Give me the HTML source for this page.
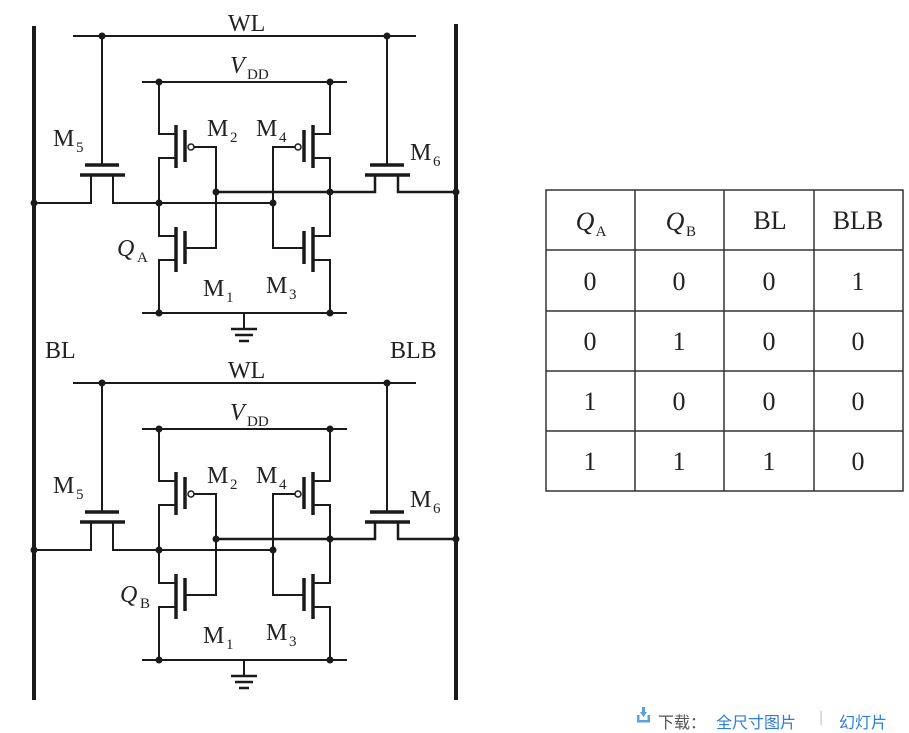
<!DOCTYPE html>
<html><head><meta charset="utf-8"><style>
html,body{margin:0;padding:0;background:#fff;width:909px;height:730px;overflow:hidden}
svg{position:absolute;left:0;top:0}
text{font-family:"Liberation Serif",serif;fill:#222}
.ft{position:absolute;top:709px;font-family:"Liberation Sans","Noto Sans CJK SC",sans-serif;font-size:16px}
</style></head><body>
<svg width="909" height="730" viewBox="0 0 909 730">
<defs>
<g id="cell" stroke="#1a1a1a" fill="none" stroke-width="2">
  <line x1="73" y1="36" x2="416" y2="36"/>
  <line x1="142" y1="82" x2="347" y2="82"/>
  <line x1="142" y1="313" x2="347" y2="313"/>
  <!-- M5 -->
  <line x1="102" y1="36" x2="102" y2="165"/>
  <line x1="85" y1="165" x2="119" y2="165" stroke-width="3.5"/>
  <line x1="80" y1="175" x2="125" y2="175" stroke-width="3.5"/>
  <polyline points="91,175 91,203 34,203"/>
  <polyline points="113,175 113,203 273,203" />
  <!-- M6 -->
  <line x1="387" y1="36" x2="387" y2="165"/>
  <line x1="370" y1="165" x2="404" y2="165" stroke-width="3.5"/>
  <line x1="365" y1="175" x2="410" y2="175" stroke-width="3.5"/>
  <polyline points="375,175 375,192 216,192" stroke-width="2.5"/>
  <polyline points="398,175 398,192 456,192" stroke-width="2.5"/>
  <!-- left inverter -->
  <polyline points="159,82 159,134 176,134"/>
  <polyline points="176,158 159,158 159,236 176,236"/>
  <polyline points="176,260 159,260 159,313"/>
  <line x1="176" y1="125" x2="176" y2="168" stroke-width="3.5"/>
  <line x1="185" y1="130" x2="185" y2="162" stroke-width="3.5"/>
  <line x1="176" y1="227" x2="176" y2="272" stroke-width="3.5"/>
  <line x1="185" y1="231" x2="185" y2="264" stroke-width="3.5"/>
  <circle cx="191" cy="147" r="3" fill="#fff" stroke-width="1.5"/>
  <polyline points="194,147 216,147 216,248 186,248"/>
  <!-- right inverter -->
  <polyline points="330,82 330,134 313,134"/>
  <polyline points="313,158 330,158 330,236 313,236"/>
  <polyline points="313,260 330,260 330,313"/>
  <line x1="313" y1="125" x2="313" y2="168" stroke-width="3.5"/>
  <line x1="304" y1="130" x2="304" y2="162" stroke-width="3.5"/>
  <line x1="313" y1="227" x2="313" y2="272" stroke-width="3.5"/>
  <line x1="304" y1="231" x2="304" y2="264" stroke-width="3.5"/>
  <circle cx="298" cy="147" r="3" fill="#fff" stroke-width="1.5"/>
  <polyline points="295,147 273,147 273,248 303,248"/>
  <!-- ground -->
  <line x1="244" y1="313" x2="244" y2="328"/>
  <line x1="231" y1="329" x2="257" y2="329" stroke-width="2.5"/>
  <line x1="235" y1="335" x2="253" y2="335" stroke-width="2.5"/>
  <line x1="239" y1="341" x2="249" y2="341" stroke-width="2.5"/>
  <g fill="#1a1a1a" stroke="none">
    <circle cx="102" cy="36" r="3.5"/><circle cx="387" cy="36" r="3.5"/>
    <circle cx="159" cy="82" r="3.5"/><circle cx="330" cy="82" r="3.5"/>
    <circle cx="159" cy="313" r="3.5"/><circle cx="330" cy="313" r="3.5"/>
    <circle cx="34" cy="203" r="3.5"/><circle cx="159" cy="203" r="3.5"/><circle cx="273" cy="203" r="3.5"/>
    <circle cx="216" cy="192" r="3.5"/><circle cx="330" cy="192" r="3.5"/><circle cx="456" cy="192" r="3.5"/>
  </g>
</g>
<g id="lbl" font-size="24">
  <text x="228" y="31">WL</text>
  <text x="230" y="73" font-style="italic">V</text><text x="247" y="79" font-size="15">DD</text>
  <text x="53" y="146">M</text><text x="76" y="152" font-size="15">5</text>
  <text x="207" y="136">M</text><text x="230" y="142" font-size="15">2</text>
  <text x="256" y="136">M</text><text x="279" y="142" font-size="15">4</text>
  <text x="410" y="160">M</text><text x="433" y="166" font-size="15">6</text>
  <text x="203" y="296">M</text><text x="226" y="302" font-size="15">1</text>
  <text x="266" y="293">M</text><text x="289" y="299" font-size="15">3</text>
</g>
</defs>
<line x1="34" y1="26" x2="34" y2="700" stroke="#1a1a1a" stroke-width="4"/>
<line x1="456" y1="24" x2="456" y2="700" stroke="#1a1a1a" stroke-width="4"/>
<use href="#cell"/>
<use href="#lbl"/>
<g transform="translate(0,347)"><use href="#cell"/><use href="#lbl"/></g>
<text x="117" y="256" font-size="24" font-style="italic">Q</text><text x="137" y="262" font-size="15">A</text>
<text x="120" y="602" font-size="24" font-style="italic">Q</text><text x="140" y="608" font-size="15">B</text>
<text x="45" y="358" font-size="24">BL</text>
<text x="390" y="358" font-size="24">BLB</text>
<!-- table -->
<g stroke="#333" stroke-width="1.5" fill="none">
  <rect x="546" y="190" width="357" height="301"/>
  <line x1="635" y1="190" x2="635" y2="491"/><line x1="724" y1="190" x2="724" y2="491"/><line x1="814" y1="190" x2="814" y2="491"/>
  <line x1="546" y1="250" x2="903" y2="250"/><line x1="546" y1="311" x2="903" y2="311"/><line x1="546" y1="371" x2="903" y2="371"/><line x1="546" y1="431" x2="903" y2="431"/>
</g>
<g font-size="26" text-anchor="middle">
  <text x="585" y="230" font-style="italic">Q</text><text x="601" y="236" font-size="15">A</text>
  <text x="675" y="230" font-style="italic">Q</text><text x="691" y="236" font-size="15">B</text>
  <text x="770" y="229">BL</text><text x="858" y="229">BLB</text>
  <text x="590" y="290">0</text><text x="679" y="290">0</text><text x="769" y="290">0</text><text x="858" y="290">1</text>
  <text x="590" y="350">0</text><text x="679" y="350">1</text><text x="769" y="350">0</text><text x="858" y="350">0</text>
  <text x="590" y="410">1</text><text x="679" y="410">0</text><text x="769" y="410">0</text><text x="858" y="410">0</text>
  <text x="590" y="470">1</text><text x="679" y="470">1</text><text x="769" y="470">1</text><text x="858" y="470">0</text>
</g>
<g fill="#5aa0e0"><rect x="637" y="720" width="13" height="2.5"/><rect x="637" y="715" width="2.5" height="7"/><rect x="647.5" y="715" width="2.5" height="7"/><polygon points="640,712 647,712 643.5,717"/><rect x="642" y="707" width="3" height="6"/></g>
</svg>
<div class="ft" style="left:658px;color:#555">下载：</div>
<div class="ft" style="left:716px;color:#2b7de0">全尺寸图片</div>
<div class="ft" style="left:819px;color:#ccc">|</div>
<div class="ft" style="left:839px;color:#2b7de0">幻灯片</div>
</body></html>
